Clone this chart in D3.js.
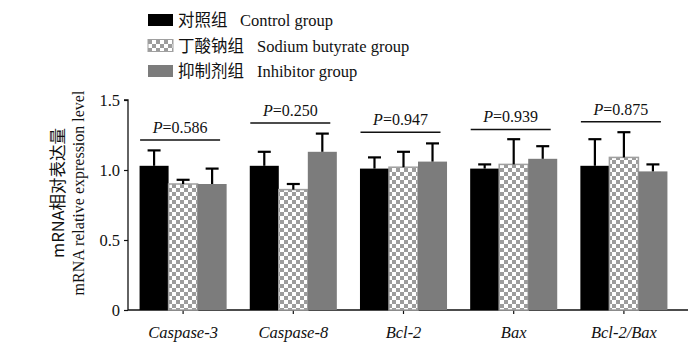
<!DOCTYPE html>
<html>
<head>
<meta charset="utf-8">
<script src="https://cdn.jsdelivr.net/npm/d3@7"></script>
<style>
  body { margin: 0; background: #fff; }
  text { font-family: "Liberation Serif", "Times New Roman", serif; fill: #111; }
  .cjk { font-family: "Noto Sans CJK SC", sans-serif; }
</style>
</head>
<body>
<div class="chart"></div>
<script>
// ---- data ----
const genes = ['Caspase-3', 'Caspase-8', 'Bcl-2', 'Bax', 'Bcl-2/Bax']
const groupsCn = ['对照组', '丁酸钠组', '抑制剂组']
const groupsEn = ['Control group', 'Sodium butyrate group', 'Inhibitor group']

const control   = [1.03, 1.03, 1.01, 1.01, 1.03]
const butyrate  = [0.90, 0.86, 1.02, 1.04, 1.09]
const inhibitor = [0.90, 1.13, 1.06, 1.08, 0.99]

// upper end of the error bars
const controlErr   = [1.14, 1.13, 1.09, 1.04, 1.22]
const butyrateErr  = [0.93, 0.90, 1.13, 1.22, 1.27]
const inhibitorErr = [1.01, 1.26, 1.19, 1.17, 1.04]

const pValues = ['0.586', '0.250', '0.947', '0.939', '0.875']
const pLevel  = [1.215, 1.335, 1.27, 1.29, 1.345]

const yTicks = [0, 0.5, 1.0, 1.5]
const yTickLabels = ['0', '0.5', '1.0', '1.5']

const W = 700, H = 351

const svg = d3.select('.chart')
  .append('svg')
    .attr('width', W)
    .attr('height', H)

const defs = svg.append('defs')
const pat = defs.append('pattern')
  .attr('id', 'checker')
  .attr('patternUnits', 'userSpaceOnUse')
  .attr('width', 8)
  .attr('height', 8)
pat.append('rect').attr('width', 8).attr('height', 8).attr('fill', '#9c9c9c')
pat.append('rect').attr('width', 4).attr('height', 4).attr('fill', '#fff')
pat.append('rect').attr('x', 4).attr('y', 4).attr('width', 4).attr('height', 4).attr('fill', '#fff')

const fills = ['#000', 'url(#checker)', '#7c7c7c']

const yScale = d3.scaleLinear()
  .domain([0, 1.5])
  .range([310, 100])

const xScale = d3.scaleBand()
  .domain(genes)
  .range([128, 679])
  .paddingInner(0.21)
  .paddingOuter(0.105)

const inner = d3.scaleBand()
  .domain(d3.range(3))
  .range([0, xScale.bandwidth()])

// y axis
const yAxis = d3.axisLeft(yScale)
  .tickValues(yTicks)
  .tickFormat((d, i) => yTickLabels[i])
  .tickSize(4)
  .tickPadding(4)

const gy = svg.append('g')
  .attr('transform', 'translate(128,0)')
  .call(yAxis)
gy.select('.domain').attr('stroke', '#111').attr('stroke-width', 1.3)
  .attr('d', `M-4,${yScale(1.5)}H0V${yScale(0)}`)
gy.selectAll('.tick line').attr('stroke', '#111').attr('stroke-width', 1.2)
gy.selectAll('.tick text')
  .style('font-family', '"Liberation Serif", serif')
  .style('font-size', '16.5px')
  .attr('fill', '#111')

// x axis
const xAxis = d3.axisBottom(xScale).tickSize(4).tickPadding(12)
const gx = svg.append('g')
  .attr('transform', `translate(0,${yScale(0)})`)
  .call(xAxis)
gx.select('.domain').attr('d', 'M128,0H688').attr('stroke', '#111').attr('stroke-width', 1.3)
gx.selectAll('.tick line').attr('stroke', '#111').attr('stroke-width', 1.2)
gx.selectAll('.tick text')
  .style('font-family', '"Liberation Serif", serif')
  .style('font-size', '16.5px')
  .style('font-style', 'italic')
  .attr('fill', '#111')

// bars
const series = [control, butyrate, inhibitor]
const errs = [controlErr, butyrateErr, inhibitorErr]
const rows = []
genes.forEach((g, i) => {
  series.forEach((s, k) => {
    rows.push({ gene: g, k, value: s[i], err: errs[k][i] })
  })
})

const bars = svg.append('g')
bars.selectAll('rect')
  .data(rows)
  .enter()
  .append('rect')
    .attr('x', d => xScale(d.gene) + inner(d.k))
    .attr('y', d => yScale(d.value))
    .attr('width', inner.bandwidth())
    .attr('height', d => yScale(0) - yScale(d.value))
    .attr('fill', d => fills[d.k])
    .attr('stroke', d => d.k === 1 ? '#a0a0a0' : 'none')
    .attr('stroke-width', 1.5)

// error bars (upper only)
const eb = svg.append('g').attr('stroke', '#000').attr('stroke-width', 2.2)
rows.forEach(d => {
  const cx = xScale(d.gene) + inner(d.k) + inner.bandwidth() / 2
  eb.append('line')
    .attr('x1', cx).attr('x2', cx)
    .attr('y1', yScale(d.value)).attr('y2', yScale(d.err))
  eb.append('line')
    .attr('x1', cx - 6.5).attr('x2', cx + 6.5)
    .attr('y1', yScale(d.err)).attr('y2', yScale(d.err))
})

// P value brackets
const sig = svg.append('g')
genes.forEach((g, i) => {
  const cx = xScale(g) + xScale.bandwidth() / 2 - 3
  const y = yScale(pLevel[i])
  sig.append('line')
    .attr('x1', cx - 40).attr('x2', cx + 40)
    .attr('y1', y).attr('y2', y)
    .attr('stroke', '#111').attr('stroke-width', 1.5)
  const t = sig.append('text')
    .attr('x', cx)
    .attr('y', y - 7)
    .attr('text-anchor', 'middle')
    .style('font-size', '16px')
  t.append('tspan').style('font-style', 'italic').text('P')
  t.append('tspan').text('=' + pValues[i])
})

// y title
const yt = svg.append('g').attr('transform', 'translate(0,193) rotate(-90)')
yt.append('text')
  .attr('class', 'cjk')
  .attr('x', 0).attr('y', 64)
  .attr('text-anchor', 'middle')
  .style('font-size', '16.5px')
  .text('mRNA相对表达量')
yt.append('text')
  .attr('x', 0).attr('y', 84)
  .attr('text-anchor', 'middle')
  .style('font-size', '16px')
  .text('mRNA relative expression level')

// legend
const legend = svg.append('g')
groupsEn.forEach((name, k) => {
  const y = 20 + k * 25.5
  legend.append('rect')
    .attr('x', 148).attr('y', y - 6)
    .attr('width', 25).attr('height', 12)
    .attr('fill', fills[k])
    .attr('stroke', k === 1 ? '#a0a0a0' : 'none')
  legend.append('text')
    .attr('class', 'cjk')
    .attr('x', 178).attr('y', y + 6)
    .style('font-size', '16.5px')
    .text(groupsCn[k])
  legend.append('text')
    .attr('x', k === 0 ? 240 : 257)
    .attr('y', y + 6)
    .style('font-size', '16.5px')
    .text(name)
})
</script>
</body>
</html>
